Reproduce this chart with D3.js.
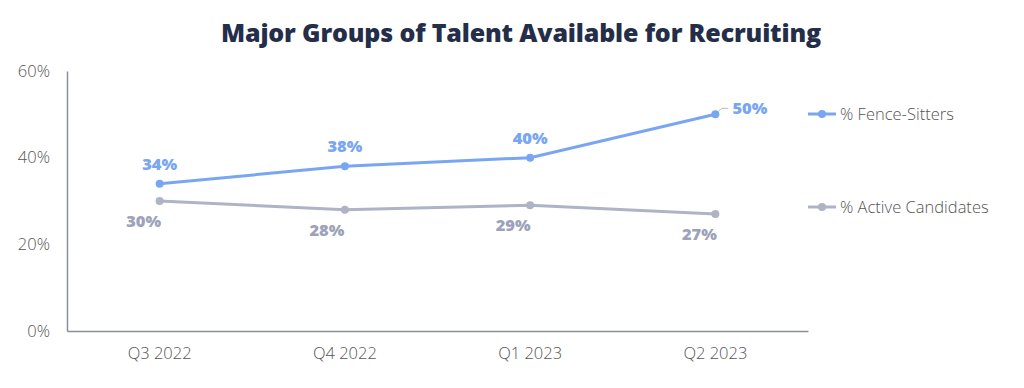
<!DOCTYPE html>
<html>
<head>
<meta charset="utf-8">
<script src="https://cdn.jsdelivr.net/npm/d3@7"></script>
<style>
  body { margin: 0; background: #fff; }
  svg { display: block; font-family: "Open Sans", sans-serif; }
</style>
</head>
<body>
<svg id="chart" width="1024" height="388"></svg>
<script>
const quarters = ["Q3 2022", "Q4 2022", "Q1 2023", "Q2 2023"];
const fenceSitters = [34, 38, 40, 50];
const activeCandidates = [30, 28, 29, 27];
const yTicks = [0, 20, 40, 60];

const series = [
  { name: "% Fence-Sitters", values: fenceSitters, color: "#79a6f2", label: "#79a6f2" },
  { name: "% Active Candidates", values: activeCandidates, color: "#aeb3c6", label: "#9ca2b9" }
];

const svg = d3.select("#chart");

// title
svg.append("text")
  .attr("x", 521).attr("y", 42)
  .attr("text-anchor", "middle")
  .style("font-size", "25px")
  .style("font-weight", 900)
  .style("letter-spacing", "-0.15px")
  .style("fill", "#242e49")
  .text("Major Groups of Talent Available for Recruiting");

const x = d3.scaleBand().domain(quarters).range([67, 808]);
const y = d3.scaleLinear().domain([0, 60]).range([331, 71]);

// axes
const yAxis = svg.append("g")
  .attr("transform", "translate(67,0)")
  .call(d3.axisLeft(y).tickValues(yTicks).tickSize(0).tickPadding(17).tickFormat(d => d + "%"));
const xAxis = svg.append("g")
  .attr("transform", "translate(0,331)")
  .call(d3.axisBottom(x).tickSize(0).tickPadding(16));

[yAxis, xAxis].forEach(a => {
  a.select(".domain").attr("stroke", "#8a8e9a").attr("stroke-width", 1.5);
  a.selectAll("text")
    .style("font-size", "16.5px")
    .style("font-weight", 300)
    .style("fill", "#555")
    .style("font-family", "'Open Sans', sans-serif");
});
yAxis.selectAll("text").attr("dy", "0.32em");

const line = d3.line()
  .x((d, i) => x(quarters[i]) + x.bandwidth() / 2)
  .y(d => y(d));

// where each value label sits, relative to its point
const labelOffsets = [
  [[0, -14], [0, -14], [0, -14], [null, null]],
  [[-16, 26], [-18, 26], [-17, 26], [-16, 26]]
];

series.forEach((s, si) => {
  svg.append("path")
    .datum(s.values)
    .attr("d", line)
    .attr("fill", "none")
    .attr("stroke", s.color)
    .attr("stroke-width", 3);

  svg.append("g").selectAll("circle")
    .data(s.values)
    .enter()
    .append("circle")
    .attr("cx", (d, i) => x(quarters[i]) + x.bandwidth() / 2)
    .attr("cy", d => y(d))
    .attr("r", 4)
    .attr("fill", s.color);

  svg.append("g").selectAll("text")
    .data(s.values)
    .enter()
    .append("text")
    .each(function (d, i) {
      const cx = x(quarters[i]) + x.bandwidth() / 2;
      const cy = y(d);
      const off = labelOffsets[si][i];
      const t = d3.select(this);
      if (off[0] === null) {
        // last fence-sitter label goes to the right with a small leader
        svg.append("path")
          .attr("d", `M${cx + 3},${cy - 3} L${cx + 6},${cy - 6} L${cx + 13},${cy - 6}`)
          .attr("fill", "none").attr("stroke", "#bbb").attr("stroke-width", 1);
        t.attr("x", cx + 17).attr("y", cy).attr("text-anchor", "start");
      } else {
        t.attr("x", cx + off[0]).attr("y", cy + off[1]).attr("text-anchor", "middle");
      }
    })
    .style("font-size", "16.5px")
    .style("font-weight", 900)
    .style("fill", s.label)
    .text(d => d + "%");
});

// legend
const legend = svg.append("g").selectAll("g")
  .data(series)
  .enter()
  .append("g")
  .attr("transform", (d, i) => `translate(808,${i === 0 ? 114 : 207})`);
legend.append("line")
  .attr("x1", 0).attr("x2", 28)
  .attr("stroke", d => d.color).attr("stroke-width", 3);
legend.append("circle")
  .attr("cx", 14).attr("r", 4).attr("fill", d => d.color);
legend.append("text")
  .attr("x", 32).attr("dy", "0.35em")
  .style("font-size", "16.5px")
  .style("font-weight", 300)
  .style("fill", "#555")
  .text(d => d.name);
</script>
</body>
</html>
